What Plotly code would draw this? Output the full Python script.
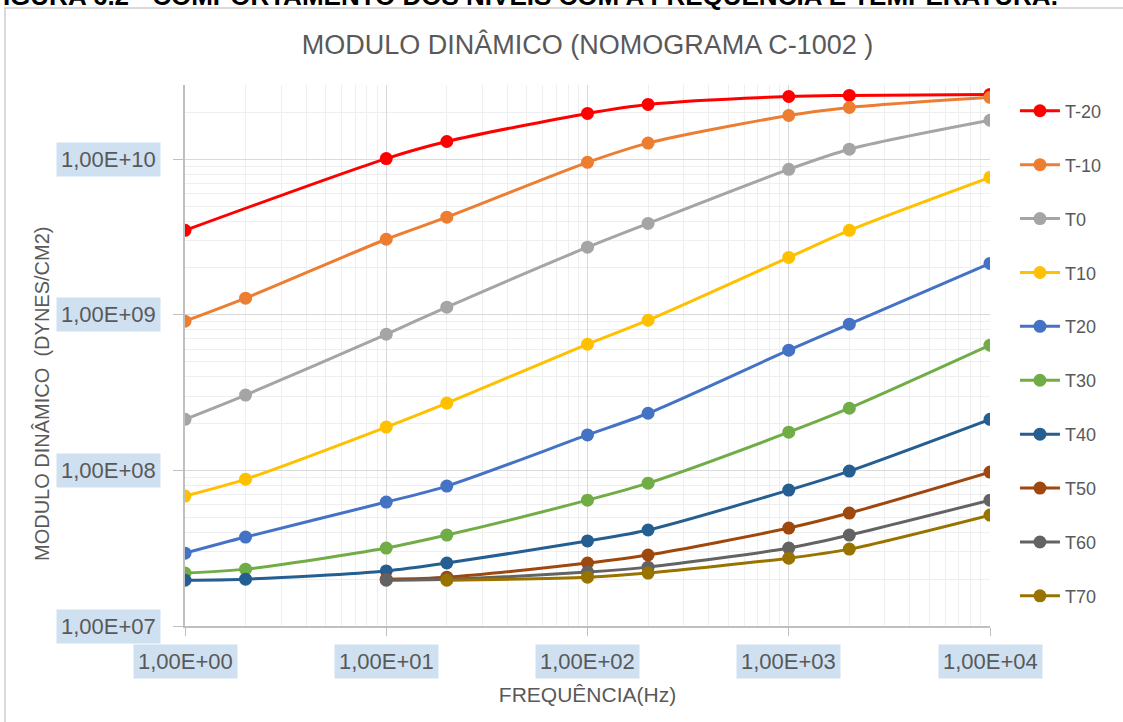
import math
import plotly.graph_objects as go

# ---------------- data ----------------
freq = [1, 2, 10, 20, 100, 200, 1000, 2000, 10000]
freq_t20 = [1, 10, 20, 100, 200, 1000, 2000, 10000]
freq_t50 = [10, 20, 100, 200, 1000, 2000, 10000]
freq_t70 = [20, 100, 200, 1000, 2000, 10000]

t_m20 = [3.49e9, 1.01e10, 1.30e10, 1.97e10, 2.25e10, 2.53e10, 2.57e10, 2.61e10]
t_m10 = [9.1e8, 1.28e9, 3.06e9, 4.24e9, 9.55e9, 1.27e10, 1.91e10, 2.15e10, 2.50e10]
t_0 = [2.13e8, 3.05e8, 7.5e8, 1.12e9, 2.72e9, 3.87e9, 8.61e9, 1.16e10, 1.78e10]
t_10 = [6.84e7, 8.79e7, 1.90e8, 2.71e8, 6.47e8, 9.23e8, 2.34e9, 3.49e9, 7.65e9]
t_20 = [2.94e7, 3.73e7, 6.26e7, 7.93e7, 1.69e8, 2.33e8, 5.93e8, 8.71e8, 2.14e9]
t_30 = [2.19e7, 2.32e7, 3.17e7, 3.84e7, 6.44e7, 8.28e7, 1.76e8, 2.51e8, 6.38e8]
t_40 = [1.97e7, 2.00e7, 2.26e7, 2.54e7, 3.52e7, 4.14e7, 7.47e7, 9.90e7, 2.13e8]
t_50 = [2.00e7, 2.06e7, 2.54e7, 2.86e7, 4.26e7, 5.32e7, 9.75e7]
t_60 = [1.97e7, 2.00e7, 2.22e7, 2.39e7, 3.17e7, 3.84e7, 6.44e7]
t_70 = [1.97e7, 2.06e7, 2.19e7, 2.73e7, 3.12e7, 5.16e7]

series_names = ["T-20", "T-10", "T0", "T10", "T20", "T30", "T40", "T50", "T60", "T70"]
series_x = [freq_t20, freq, freq, freq, freq, freq, freq, freq_t50, freq_t50, freq_t70]
series_y = [t_m20, t_m10, t_0, t_10, t_20, t_30, t_40, t_50, t_60, t_70]
colors = ["#FF0000", "#ED7D31", "#A5A5A5", "#FFC000", "#4472C4",
          "#70AD47", "#255E91", "#9E480E", "#636363", "#997300"]

x_ticks = [1, 10, 100, 1000, 10000]
x_tick_labels = ["1,00E+00", "1,00E+01", "1,00E+02", "1,00E+03", "1,00E+04"]
y_ticks = [1e7, 1e8, 1e9, 1e10]
y_tick_labels = ["1,00E+07", "1,00E+08", "1,00E+09", "1,00E+10"]

title_text = "MODULO DINÂMICO (NOMOGRAMA C-1002 )"
x_title = "FREQUÊNCIA(Hz)"
y_title = "MODULO DINÂMICO  (DYNES/CM2)"
heading = "FIGURA 6.2 - COMPORTAMENTO DOS NÍVEIS COM A FREQUÊNCIA E TEMPERATURA."

FONT = "Liberation Sans, Arial, sans-serif"
TXT = "#595959"
HL = "#cfe0f1"

fig = go.Figure()
for name, xs, ys, c in zip(series_names, series_x, series_y, colors):
    fig.add_trace(go.Scatter(
        x=xs, y=ys, name=name, legendgroup=name,
        mode="lines+markers",
        line=dict(color=c, width=3, shape="spline", smoothing=0.8),
        marker=dict(color=c, size=13),
    ))

annotations = []
for v, lab in zip(x_ticks, x_tick_labels):
    annotations.append(dict(x=math.log10(v), xref="x", y=0, yref="paper",
                            text=lab, showarrow=False, xanchor="center", yanchor="top",
                            yshift=-18, bgcolor=HL, borderpad=4,
                            font=dict(family=FONT, size=22, color=TXT)))
for v, lab in zip(y_ticks, y_tick_labels):
    annotations.append(dict(x=0, xref="paper", y=math.log10(v), yref="y",
                            text=lab, showarrow=False, xanchor="right", yanchor="middle",
                            xshift=-24, bgcolor=HL, borderpad=4,
                            font=dict(family=FONT, size=22, color=TXT)))
# y-axis title (placed slightly below the plot centre, as in the reference)
annotations.append(dict(x=0, xref="paper", y=(626 - 394) / 541, yref="paper",
                        text=y_title, textangle=-90, showarrow=False,
                        xanchor="center", yanchor="middle", xshift=-143,
                        font=dict(family=FONT, size=20, color=TXT)))
annotations.append(dict(x=1.087, xref="paper", y=1, yref="paper", yanchor="bottom",
                        xanchor="right", yshift=72, text="<b>" + heading + "</b>",
                        showarrow=False, font=dict(family=FONT, size=26, color="#000000")))

grid_major = "#d9d9d9"
grid_minor = "#efefef"

fig.update_layout(
    width=1123, height=722,
    margin=dict(l=185, r=133, t=85, b=96),
    paper_bgcolor="white", plot_bgcolor="white",
    title=dict(text=title_text, x=0.5, xanchor="center", y=1 - 45 / 722, yanchor="middle",
               xref="paper", font=dict(family=FONT, size=27, color=TXT)),
    showlegend=True,
    legend=dict(x=1.031, y=0.986, xanchor="left", yanchor="top",
                font=dict(family=FONT, size=18, color=TXT),
                tracegroupgap=27.5, traceorder="grouped", itemwidth=40,
                maxheight=700,
                bgcolor="rgba(0,0,0,0)"),
    annotations=annotations,
    shapes=[dict(type="rect", xref="paper", yref="paper",
                 x0=(5 - 185) / 805, x1=1.3, y0=-0.4, y1=(626 - 8) / 541,
                 line=dict(color="#d9d9d9", width=2), layer="below")],
    xaxis=dict(type="log", range=[0, 4], showticklabels=False,
               dtick=1, ticks="outside", ticklen=8, tickcolor="#bfbfbf",
               showline=True, linecolor="#bfbfbf", linewidth=1.5,
               showgrid=True, gridcolor=grid_major, gridwidth=1,
               minor=dict(showgrid=True, gridcolor=grid_minor, ticks=""),
               zeroline=False,
               title=dict(text=x_title, font=dict(family=FONT, size=21, color=TXT), standoff=53)),
    yaxis=dict(type="log", range=[7, math.log10(3e10)], showticklabels=False,
               dtick=1, ticks="outside", ticklen=10, tickcolor="#bfbfbf",
               showline=True, linecolor="#bfbfbf", linewidth=1.5,
               showgrid=True, gridcolor=grid_major, gridwidth=1,
               minor=dict(showgrid=True, gridcolor=grid_minor, ticks=""),
               zeroline=False),
)

fig.write_html("out.html")
